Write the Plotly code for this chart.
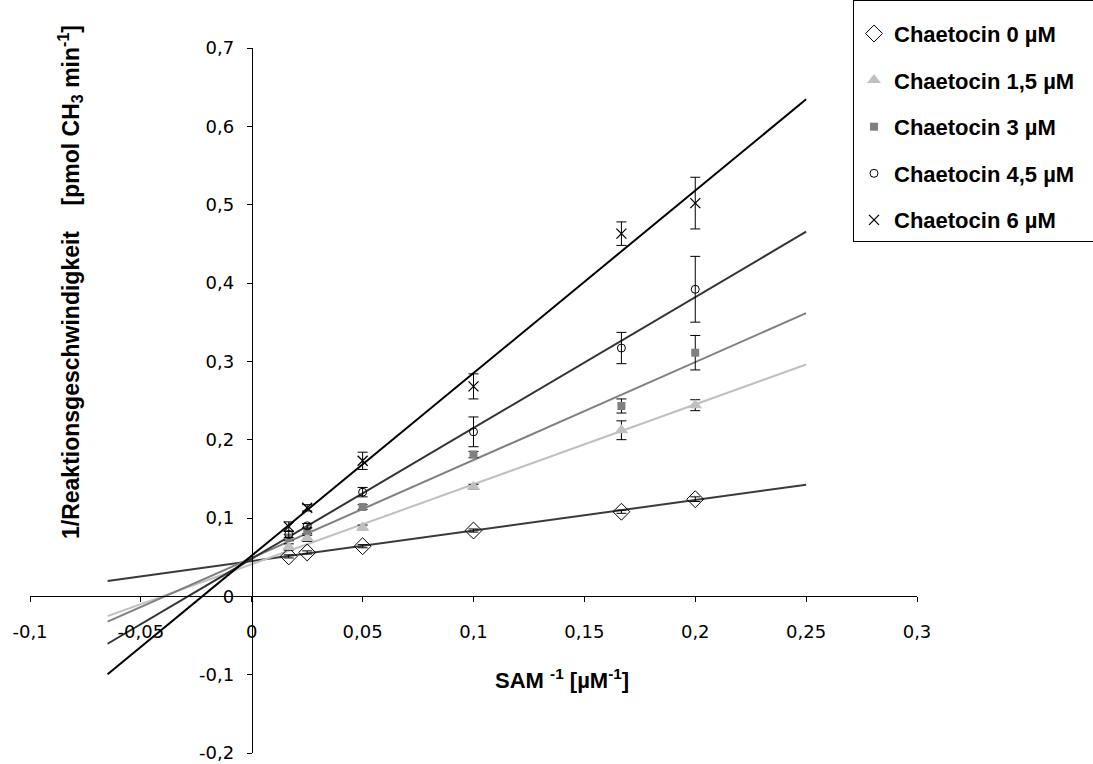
import numpy as np
import plotly.graph_objects as go

# Reciprocal substrate concentrations (SAM^-1, µM^-1)
inv_sam = [0.0167, 0.025, 0.05, 0.1, 0.1667, 0.2]

# 1/reaction rate per chaetocin concentration, with standard deviations
series_names = ["Chaetocin 0 µM", "Chaetocin 1,5 µM", "Chaetocin 3 µM",
                "Chaetocin 4,5 µM", "Chaetocin 6 µM"]
rate_0 = [0.051, 0.056, 0.064, 0.084, 0.108, 0.124]
sd_0 = [0.002, 0.002, 0.002, 0.002, 0.002, 0.003]
rate_15 = [0.063, 0.074, 0.088, 0.140, 0.212, 0.244]
sd_15 = [0.004, 0.004, 0.003, 0.003, 0.012, 0.007]
rate_3 = [0.075, 0.084, 0.114, 0.181, 0.243, 0.311]
sd_3 = [0.004, 0.004, 0.003, 0.004, 0.009, 0.022]
rate_45 = [0.079, 0.090, 0.133, 0.210, 0.317, 0.392]
sd_45 = [0.004, 0.003, 0.006, 0.019, 0.020, 0.042]
rate_6 = [0.089, 0.113, 0.173, 0.268, 0.463, 0.502]
sd_6 = [0.006, 0.004, 0.011, 0.016, 0.015, 0.033]

# Linear (Lineweaver-Burk) fits: slope and y-intercept per series
fit_slope = [0.39, 1.02, 1.25, 1.67, 2.33]
fit_intercept = [0.045, 0.041, 0.049, 0.048, 0.052]
fit_range = [-0.065, 0.25]

# Axis ticks
x_ticks = [-0.1, -0.05, 0, 0.05, 0.1, 0.15, 0.2, 0.25, 0.3]
x_tick_labels = ["-0,1", "-0,05", "0", "0,05", "0,1", "0,15", "0,2", "0,25", "0,3"]
y_ticks = [-0.2, -0.1, 0, 0.1, 0.2, 0.3, 0.4, 0.5, 0.6, 0.7]
y_tick_labels = ["-0,2", "-0,1", "0", "0,1", "0,2", "0,3", "0,4", "0,5", "0,6", "0,7"]

rates = [rate_0, rate_15, rate_3, rate_45, rate_6]
sds = [sd_0, sd_15, sd_3, sd_45, sd_6]
line_colors = ["#3a3a3a", "#c0c0c0", "#808080", "#333333", "#000000"]
markers = [
    dict(symbol="diamond-open", size=13, color="black", line=dict(width=1, color="black")),
    dict(symbol="triangle-up", size=12, color="#c0c0c0", line=dict(width=0)),
    dict(symbol="square", size=8, color="#808080", line=dict(width=0)),
    dict(symbol="circle-open", size=8, color="black", line=dict(width=1, color="black")),
    dict(symbol="x-thin", size=10, color="black", line=dict(width=1.3, color="black")),
]

W, H = 1093, 764
ML, MR, MT, MB = 30, 176, 48, 11
PW, PH = W - ML - MR, H - MT - MB

fig = go.Figure()

# Fit lines first so the markers sit on top
for slope, icpt, col in zip(fit_slope, fit_intercept, line_colors):
    xs = np.array(fit_range)
    fig.add_trace(go.Scatter(
        x=xs, y=icpt + slope * xs, mode="lines",
        line=dict(color=col, width=2), showlegend=False, hoverinfo="skip"))

for i, (name, ys, err, mk) in enumerate(zip(series_names, rates, sds, markers)):
    fig.add_trace(go.Scatter(
        x=inv_sam, y=ys, mode="markers",
        # trailing no-break spaces widen the legend box past the right edge
        name=name + "\u00a0\u00a0\u00a0", marker=mk,
        legendgroup=f"g{i}",
        error_y=dict(type="data", array=err, visible=True, color="black",
                     thickness=1, width=5)))

axis_font = dict(family="DejaVu Sans", size=18, color="black")

fig.update_layout(
    width=W, height=H,
    margin=dict(l=ML, r=MR, t=MT, b=MB, autoexpand=False),
    paper_bgcolor="white", plot_bgcolor="white",
    showlegend=True,
    xaxis=dict(
        range=[-0.1, 0.3], anchor="free", position=0.2 / 0.9,
        showline=True, linecolor="black", linewidth=1,
        ticks="outside", ticklen=5, tickcolor="black", tickwidth=1,
        tickvals=x_ticks, ticktext=x_tick_labels, tickfont=axis_font,
        ticklabelstandoff=14,
        showgrid=False, zeroline=False),
    yaxis=dict(
        range=[-0.2, 0.7], anchor="free", position=0.25,
        showline=True, linecolor="black", linewidth=1,
        ticks="outside", ticklen=5, tickcolor="black", tickwidth=1,
        tickvals=y_ticks, ticktext=y_tick_labels, tickfont=axis_font,
        ticklabelstandoff=9,
        showgrid=False, zeroline=False),
    legend=dict(
        x=(853 - ML) / PW, xanchor="left",
        y=1 + MT / PH, yanchor="top",
        bgcolor="white", bordercolor="black", borderwidth=1,
        font=dict(family="Liberation Sans", size=22, color="black", weight="bold"),
        title=dict(text="\u00a0", font=dict(size=9)),
        tracegroupgap=15, itemwidth=30),
)

# Axis titles
fig.add_annotation(
    xref="paper", yref="paper",
    x=(562 - ML) / PW, y=(H - MB - 679) / PH,
    xanchor="center", yanchor="middle",
    text="SAM <sup>-1</sup> [µM<sup>-1</sup>]",
    showarrow=False,
    font=dict(family="Liberation Sans", size=22, color="black", weight="bold"))
fig.add_annotation(
    xref="paper", yref="paper",
    x=(70 - ML) / PW, y=(H - MB - 282) / PH,
    xanchor="center", yanchor="middle",
    text="1/Reaktionsgeschwindigkeit\u00a0\u00a0\u00a0 [pmol CH<sub>3</sub> min<sup>-1</sup>]",
    textangle=-90, showarrow=False,
    font=dict(family="Liberation Sans", size=23, color="black", weight="bold"))

fig.write_html("out.html")
